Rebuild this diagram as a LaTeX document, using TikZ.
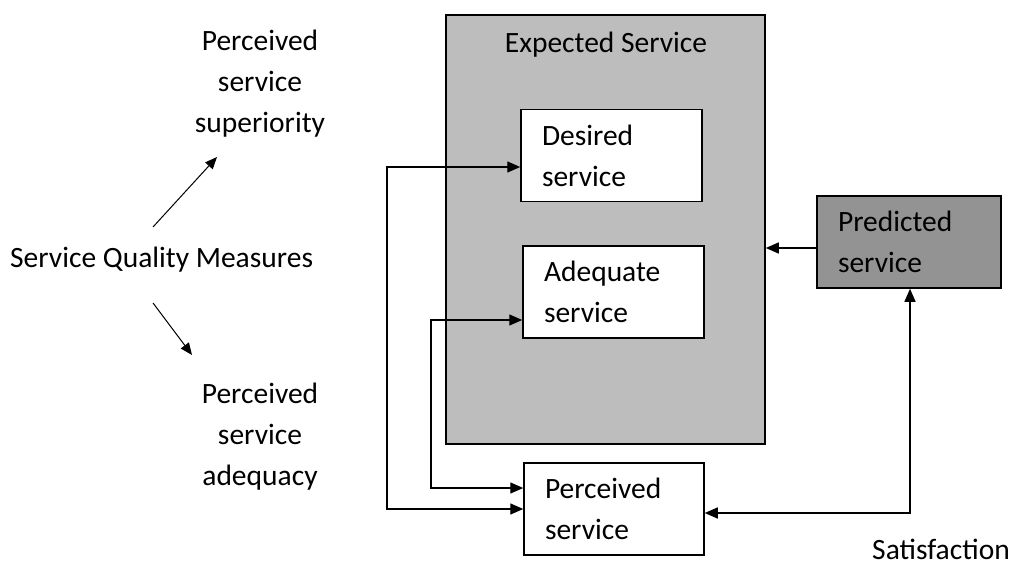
\documentclass[tikz,border=0pt]{standalone}
\usepackage{fontspec}
\setmainfont{Carlito}
\usetikzlibrary{arrows.meta}
\definecolor{expfill}{HTML}{BDBDBD}
\definecolor{predfill}{HTML}{939393}
\tikzset{
  txt/.style={inner sep=0pt},
  box/.style={draw=black, line width=1.5pt, fill=white, inner ysep=0pt,
    inner xsep=21pt, align=left},
  link/.style={draw=black, line width=1.4pt},
  tip/.tip={Triangle[length=13pt,width=11pt]},
  smalltip/.tip={Triangle[length=12pt,width=10pt]}
}
\begin{document}
\begin{tikzpicture}[x=1pt,y=-1pt,font=\fontsize{29.5}{41}\selectfont]
  \useasboundingbox (0,0) rectangle (1011,577);

  % left-hand measures
  \node[txt, align=center] (sup) at (260,84) {Perceived\\service\\superiority};
  \node[txt, anchor=base west] (sqm) at (10,267) {Service Quality Measures};
  \node[txt, align=center] (adq) at (260,437) {Perceived\\service\\adequacy};
  \coordinate (u0) at (153,227);
  \coordinate (u1) at (217,157);
  \coordinate (d0) at (153,303);
  \coordinate (d1) at (192,355);
  \draw[link, line width=1pt, -smalltip] (u0) -- (u1);
  \draw[link, line width=1pt, -smalltip] (d0) -- (d1);

  % expected service and its two levels
  \node[draw=black, line width=1.5pt, fill=expfill, minimum width=319pt,
        minimum height=429pt, inner sep=0pt] (exp) at (605.5,229.5) {};
  \node[txt, anchor=base] (exptitle) at (606,53) {Expected Service};
  \node[box, text width=139pt, minimum width=181pt, minimum height=92pt]
       (des) at (611.5,155.5) {Desired\\service};
  \node[box, text width=139pt, minimum width=181pt, minimum height=92pt]
       (ade) at (613.5,292) {Adequate\\service};

  % perceived and predicted service
  \node[box, text width=138pt, minimum width=180pt, minimum height=92pt]
       (per) at (614,509) {Perceived\\service};
  \node[box, fill=predfill, text width=142pt, minimum width=184pt,
        minimum height=92pt] (pred) at (909,242) {Predicted\\service};

  \node[txt, anchor=base west] (sat) at (872,559) {Satisfaction};

  % connectors
  \coordinate (xa) at (387,300);
  \coordinate (xb) at (431,400);
  \draw[link, tip-tip] ([yshift=-11.5pt]des.west) -| (xa) |- (per.west);
  \draw[link, tip-tip] ([yshift=-28pt]ade.west) -| (xb) |- ([yshift=21pt]per.west);
  \coordinate (pa) at ([yshift=-6pt]pred.west);
  \draw[link, -tip] (pa) -- (pa -| exp.east);
  \draw[link, tip-tip] ([yshift=-4pt]per.east) -| ([xshift=1pt]pred.south);
\end{tikzpicture}
\end{document}
